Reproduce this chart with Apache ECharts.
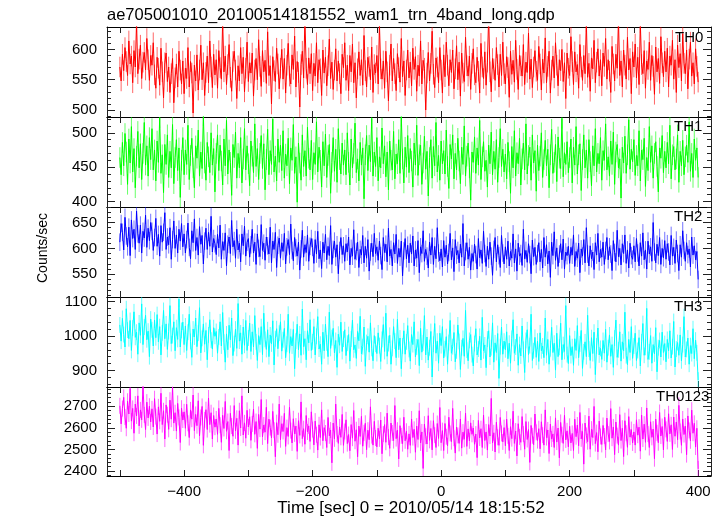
<!DOCTYPE html>
<html><head><meta charset="utf-8">
<script src="https://cdn.jsdelivr.net/npm/echarts@6/dist/echarts.min.js"></script>
<style>html,body{margin:0;padding:0;background:#fff}#c{width:723px;height:516px}</style>
</head><body><div id="c"></div>
<script>
const TITLE = 'ae705001010_20100514181552_wam1_trn_4band_long.qdp';
const X_TITLE = 'Time [sec] 0 = 2010/05/14 18:15:52';
const Y_TITLE = 'Counts/sec';
const bandNames = ['TH0', 'TH1', 'TH2', 'TH3', 'TH0123'];
const bandColors = ['#ff0000', '#00ff00', '#0000ff', '#00ffff', '#ff00ff'];
const errColors = ['rgba(255,0,0,0.6)', 'rgba(0,255,0,0.6)', 'rgba(0,0,255,0.55)', 'rgba(0,255,255,0.6)', 'rgba(255,0,255,0.6)'];
const T_START = -500, T_STEP = 2;
// half-length of the error bars (counts/sec) per band
const errHalf = [17, 15, 17, 23, 37];

const th0 = [
571,548,592,565,603,580,557,614,576,589,545,598,571,645,560,584,607,552,579,595,566,618,583,549,590,
574,611,558,536,587,569,541,602,563,520,578,594,547,571,529,560,585,512,553,576,538,597,566,543,581,
527,569,552,603,538,580,561,495,574,548,591,533,566,607,550,578,524,562,589,545,614,571,537,592,558,
583,536,598,570,551,648,563,589,542,575,608,554,531,580,597,566,519,573,548,603,560,587,530,569,612,
547,578,561,594,523,566,585,550,616,572,539,598,563,582,544,629,557,573,510,588,565,547,602,576,535,
569,600,551,585,528,574,610,556,543,591,567,622,538,580,562,505,575,597,553,652,569,542,586,560,593,
532,577,556,611,545,583,568,524,599,561,587,540,573,617,552,579,534,566,601,548,581,560,527,592,570,
611,549,574,532,590,563,609,545,578,520,568,596,557,583,541,623,565,538,587,572,550,604,529,575,561,
590,543,641,568,551,581,536,597,563,515,574,609,548,585,560,532,593,570,546,618,555,581,524,566,599,
553,579,540,602,567,588,531,574,556,614,543,582,569,500,561,595,548,577,630,559,537,586,571,545,603,
566,528,591,555,612,574,540,583,562,599,535,568,606,550,579,523,594,561,547,620,573,556,589,534,577,
601,558,545,587,564,528,610,571,552,596,541,579,655,563,530,585,568,549,603,575,538,592,557,612,560,
543,588,570,521,597,559,582,546,615,567,534,590,573,556,608,542,579,562,627,551,584,537,571,598,564,
549,605,576,533,584,561,619,545,572,597,528,566,589,553,611,574,540,583,565,600,547,578,519,594,569,
557,621,580,542,596,563,575,536,608,571,549,590,560,646,554,577,531,586,568,615,545,579,601,556,583,
540,594,572,618,551,583,564,529,605,576,548,592,569,650,557,581,538,599,574,551,620,566,585,527,596,
571,609,553,587,542,644,575,560,598,536,581,567,612,549,590,572,526,604,563,585,544,621,578,555,597,
563,602,538,589,574,615,551,583,529,607,570,593,548,626,577,560,599,535,584,612,556,578,543,601,572,
546];

const th1 = [
464,439,486,452,499,472,425,491,456,509,443,477,420,466,502,449,484,432,470,515,453,481,437,493,461,
506,446,475,430,488,457,522,441,468,413,483,454,497,435,473,449,512,426,464,490,445,478,406,460,493,
439,475,454,511,432,467,492,449,420,481,463,504,437,472,448,525,456,431,486,465,442,500,453,477,414,
470,497,445,482,459,424,491,452,518,440,475,457,409,483,464,501,434,470,449,493,427,462,506,446,481,
455,423,488,466,442,513,451,477,432,470,496,448,484,417,461,505,439,474,454,520,443,466,430,491,457,
482,445,503,434,469,452,492,426,478,460,512,441,465,399,485,456,431,497,451,474,437,508,463,446,489,
432,471,454,516,443,479,460,421,487,452,498,435,467,483,412,457,493,444,476,428,506,461,440,485,453,
475,439,500,457,424,491,449,470,514,442,462,430,486,453,478,404,468,496,445,482,458,521,437,472,451,
493,430,465,449,507,455,481,436,472,417,488,460,446,502,433,469,455,490,441,524,462,427,479,450,496,
442,477,459,421,485,453,511,438,468,482,425,456,495,447,473,408,464,490,434,480,452,515,443,467,431,
488,455,474,440,504,451,419,483,462,497,433,470,446,492,459,426,479,454,510,437,466,485,449,402,472,
457,494,441,478,453,518,432,465,487,444,460,421,482,455,501,439,473,447,490,428,464,506,451,476,443,
469,433,486,458,412,480,449,503,437,471,455,492,424,462,485,446,513,440,467,479,431,497,456,474,415,
482,445,466,500,435,461,489,452,476,420,468,505,441,457,483,429,494,463,448,521,436,471,454,487,442,
464,491,427,479,453,509,440,468,484,416,461,497,449,475,434,490,458,423,481,452,506,443,470,455,493,
431,474,460,513,446,465,437,488,454,501,425,472,483,449,462,405,479,456,495,441,468,519,447,476,458,
490,438,467,452,503,430,475,461,492,422,464,445,509,457,481,434,470,487,451,414,478,463,496,442,473,
449,486,455,511,433,468,480,446,462,497,428,473,452,489,439,465,482,457,516,444,470,435,491,460,478,
435];

const th2 = [
612,648,631,597,660,624,603,641,586,655,619,637,598,672,628,610,645,591,633,620,664,602,639,615,650,
633,596,621,658,604,627,585,644,612,631,669,598,622,607,640,579,617,653,600,626,591,637,614,648,603,
628,591,617,649,602,580,634,611,657,596,621,587,642,608,625,570,614,639,598,631,604,662,593,619,609,
588,627,601,645,579,613,596,630,566,608,622,590,654,603,615,581,637,597,610,574,628,605,643,585,612,
619,583,607,637,591,612,569,628,600,584,646,596,610,577,622,605,589,641,572,614,598,631,563,606,620,
581,611,594,629,570,603,617,588,647,596,576,621,601,585,612,558,599,635,583,607,592,626,575,604,619,
602,571,617,589,633,580,597,561,612,591,627,578,604,586,644,569,598,614,583,607,551,596,621,588,605,
575,609,593,622,568,600,585,636,579,594,612,563,598,587,625,572,604,581,617,556,593,610,584,629,590,
603,577,614,586,559,621,592,608,574,639,585,598,566,611,589,627,571,600,583,614,547,595,619,580,606,
572,610,589,624,566,597,581,615,553,603,590,634,575,598,585,562,612,587,621,569,604,580,640,591,576,
599,564,615,583,606,570,592,629,578,601,555,617,587,596,572,608,583,648,566,594,611,579,602,558,590,
575,608,588,560,619,582,597,571,633,590,565,604,579,612,585,548,598,621,574,607,586,563,625,591,570,
603,579,614,566,594,581,628,572,599,556,610,585,590,567,637,580,596,573,609,588,551,616,584,602,569,
590,611,574,598,562,621,583,607,570,595,544,612,586,632,577,601,565,589,609,578,618,560,593,586,604,
571,602,587,626,565,594,581,610,553,599,585,617,572,640,589,566,605,580,593,559,611,587,629,574,598,
583,612,569,596,621,578,603,589,557,615,592,574,635,584,600,568,609,590,626,571,597,562,610,586,579,
605,574,619,591,566,611,585,630,578,597,560,614,589,603,575,650,593,572,608,586,621,569,600,582,615,
579,609,593,568,625,585,602,571,616,590,557,607,583,634,596,575,611,588,599,564,622,587,605,578,594,
540];

const th3 = [
1032,985,1051,1004,968,1079,1017,992,1045,958,1023,1070,996,1011,947,1038,1002,1093,975,1026,1060,989,1014,940,1049,
1018,971,1046,995,1062,983,1027,945,1009,1074,992,1035,961,1013,1088,978,1001,1041,957,1024,990,1107,968,1016,1040,
975,1029,958,1011,1063,984,938,1020,997,1052,969,1008,1082,951,993,1035,976,1016,931,1003,1047,988,962,1024,999,
1013,950,997,1041,971,1068,982,924,1006,960,1031,989,1052,943,978,1020,964,1094,985,1009,947,1026,973,1045,958,
994,1037,955,1012,968,1059,983,929,1001,975,1027,946,1066,990,961,1018,940,1003,977,1044,916,992,1021,963,1008,
1041,956,989,1022,937,976,1063,950,998,971,1019,905,985,1034,960,1006,944,1078,969,992,931,1015,980,1047,958,
983,1027,945,999,1056,962,976,918,1011,957,1034,980,940,1069,964,995,1022,951,987,909,1005,973,1040,955,991,
1018,943,979,1004,927,991,1046,960,974,935,1013,986,1057,948,969,1026,912,981,999,953,1038,964,928,1001,976,
949,1009,972,926,990,1033,955,1066,941,978,1002,918,964,1027,985,937,1048,960,994,905,971,1015,947,983,1030,
961,927,1004,975,1041,939,968,990,914,1022,953,980,1059,945,997,930,966,1013,881,976,1036,950,985,921,1008,
972,1027,936,963,998,918,981,1045,950,969,1010,925,957,1032,984,903,966,993,941,1074,959,928,987,1004,946,
913,978,1021,945,962,999,930,1054,957,974,908,991,1015,939,966,1038,924,980,952,1007,877,969,1026,947,985,
960,1012,934,979,921,993,1047,950,968,1006,915,975,942,1029,961,894,987,1018,946,972,1063,929,957,996,938,
985,926,1009,957,971,937,1052,944,990,918,963,1025,952,979,901,1008,940,967,1037,931,975,955,1088,946,920,
1001,943,969,915,992,958,1030,937,977,1016,906,954,983,940,1060,962,929,995,949,1011,888,971,1023,945,964,
932,987,950,1019,924,966,1003,941,975,909,994,1046,938,960,1012,927,983,957,1069,943,917,990,952,1027,935,
971,1008,929,958,995,913,983,1036,944,967,1080,932,954,1001,921,975,948,1024,896,966,987,939,1011,952,978,
925,990,957,1015,936,969,1042,910,962,981,944,1003,928,975,1056,939,961,994,918,972,949,1021,934,988,951,
872];

const th0123 = [
2702,2618,2689,2741,2650,2598,2723,2664,2782,2631,2690,2575,2710,2655,2748,2609,2683,2637,2795,2660,2592,2719,2646,2700,2627,
2688,2604,2735,2652,2571,2697,2630,2760,2615,2679,2548,2706,2661,2593,2728,2640,2790,2622,2670,2585,2713,2648,2532,2691,2636,
2674,2598,2709,2621,2555,2683,2640,2752,2587,2662,2610,2725,2563,2648,2699,2519,2637,2684,2592,2738,2615,2670,2548,2657,2603,
2641,2570,2690,2612,2533,2658,2597,2722,2584,2629,2495,2667,2608,2561,2703,2586,2644,2520,2679,2599,2748,2567,2623,2552,2681,
2604,2651,2542,2618,2687,2570,2629,2505,2662,2594,2731,2558,2613,2580,2695,2527,2640,2601,2553,2676,2589,2466,2624,2568,2710,
2545,2619,2583,2667,2514,2601,2560,2695,2587,2530,2642,2572,2608,2491,2633,2565,2720,2550,2596,2524,2657,2581,2609,2537,2674,
2592,2521,2631,2568,2497,2614,2555,2683,2540,2601,2576,2509,2648,2563,2590,2438,2622,2549,2710,2571,2528,2604,2556,2662,2519,
2583,2637,2527,2569,2494,2615,2552,2680,2538,2591,2466,2608,2560,2653,2515,2577,2621,2499,2589,2545,2697,2564,2520,2630,2553,
2512,2598,2549,2636,2480,2571,2615,2533,2668,2557,2505,2622,2576,2541,2703,2550,2589,2456,2610,2563,2527,2649,2540,2584,2501,
2572,2519,2641,2555,2593,2487,2608,2546,2679,2530,2581,2412,2617,2561,2525,2656,2542,2597,2498,2633,2566,2509,2620,2551,2694,
2531,2587,2495,2620,2559,2517,2649,2574,2536,2690,2552,2483,2603,2565,2528,2641,2506,2580,2547,2668,2514,2595,2540,2623,2570,
2599,2524,2571,2462,2634,2553,2596,2509,2659,2541,2581,2497,2615,2562,2736,2530,2577,2488,2626,2556,2519,2648,2574,2535,2601,
2517,2640,2563,2495,2605,2550,2677,2528,2585,2470,2619,2558,2533,2652,2571,2501,2629,2546,2592,2440,2611,2563,2522,2664,2579,
2541,2596,2503,2628,2566,2520,2683,2555,2590,2481,2617,2548,2572,2509,2646,2534,2599,2461,2625,2568,2528,2658,2544,2586,2512,
2607,2530,2574,2495,2640,2559,2613,2517,2671,2549,2583,2432,2622,2565,2536,2654,2501,2594,2555,2699,2527,2578,2489,2631,2560,
2523,2611,2562,2498,2645,2571,2537,2689,2552,2604,2476,2627,2564,2520,2661,2541,2598,2467,2633,2575,2510,2652,2557,2592,2530,
2581,2520,2637,2566,2603,2492,2659,2548,2617,2533,2692,2571,2509,2628,2556,2594,2457,2640,2577,2531,2671,2562,2606,2498,2649,
2593,2537,2665,2572,2614,2500,2650,2561,2627,2545,2704,2583,2519,2641,2569,2608,2476,2655,2588,2540,2682,2575,2621,2511,2598,
2410];

const xTickValues = [-500, -400, -300, -200, -100, 0, 100, 200, 300, 400];
const xLabelValues = [-400, -200, 0, 200, 400];
const X_MIN = -520, X_MAX = 420;
const yMin = [488.5, 392, 506, 852, 2377];
const yMax = [637, 523, 680, 1113, 2789];
const yMajorTicks = [
  [500, 550, 600],
  [400, 450, 500],
  [550, 600, 650],
  [900, 1000, 1100],
  [2400, 2500, 2600, 2700]
];
const yMinorStep = [10, 10, 10, 20, 20];

const series = [th0, th1, th2, th3, th0123];
const FONT = '"Liberation Sans", Arial, Helvetica, sans-serif';
const gridTops = [27, 117, 207, 297, 387];
const gridHeights = [90, 90, 90, 90, 89];
const labelPos = [[675, 38], [674, 127], [674, 217], [674, 307], [656, 397]];

function minorTicks(i) {
  const out = [];
  const s = yMinorStep[i];
  for (let v = Math.ceil(yMin[i] / s) * s; v <= yMax[i]; v += s) out.push(v);
  return out;
}
const fmtX = v => (v < 0 ? '\u2212' + (-v) : String(v));
const fmtY = v => String(v);

const grids = [], xAxes = [], yAxes = [], ser = [], graphics = [];
for (let i = 0; i < 5; i++) {
  grids.push({ left: 107, right: 12, top: gridTops[i], height: gridHeights[i], outerBoundsMode: 'none' });
  const xBase = {
    gridIndex: i, type: 'value', min: X_MIN, max: X_MAX,
    axisLine: { show: true, onZero: false, lineStyle: { color: '#000', width: 1 } },
    axisTick: { show: true, inside: true, length: 6, customValues: xTickValues, lineStyle: { color: '#222', width: 1 } },
    splitLine: { show: false }
  };
  xAxes.push(Object.assign({}, xBase, {
    position: 'bottom',
    axisLabel: { show: i === 4, customValues: xLabelValues, formatter: fmtX, fontSize: 15, color: '#000', margin: 8, fontFamily: FONT }
  }));
  xAxes.push(Object.assign({}, xBase, { position: 'top', axisLabel: { show: false } }));

  const yBase = { gridIndex: i, type: 'value', min: yMin[i], max: yMax[i], splitLine: { show: false } };
  yAxes.push(Object.assign({}, yBase, {
    position: 'left',
    axisLine: { show: true, onZero: false, lineStyle: { color: '#222', width: 1 } },
    axisTick: { show: true, inside: true, length: 8, customValues: yMajorTicks[i], lineStyle: { color: '#222' } },
    axisLabel: { show: true, customValues: yMajorTicks[i], formatter: fmtY, fontSize: 15, color: '#000', margin: 10, fontFamily: FONT }
  }));
  yAxes.push(Object.assign({}, yBase, {
    position: 'left',
    axisLine: { show: false, onZero: false },
    axisTick: { show: true, inside: true, length: 4, customValues: minorTicks(i), lineStyle: { color: '#222' } },
    axisLabel: { show: false }
  }));
  yAxes.push(Object.assign({}, yBase, {
    position: 'right',
    axisLine: { show: true, onZero: false, lineStyle: { color: '#222', width: 1 } },
    axisTick: { show: true, inside: true, length: 8, customValues: yMajorTicks[i], lineStyle: { color: '#222' } },
    axisLabel: { show: false }
  }));
  yAxes.push(Object.assign({}, yBase, {
    position: 'right',
    axisLine: { show: false, onZero: false },
    axisTick: { show: true, inside: true, length: 4, customValues: minorTicks(i), lineStyle: { color: '#222' } },
    axisLabel: { show: false }
  }));

  const pts = series[i].map((v, k) => [T_START + k * T_STEP, v]);
  const e = errHalf[i];
  const ec = errColors[i];
  ser.push({
    type: 'custom', name: bandNames[i] + ' err', xAxisIndex: 2 * i, yAxisIndex: 4 * i,
    data: pts, z: 1, silent: true, animation: false,
    renderItem: function (params, api) {
      const x = api.value(0), y = api.value(1);
      const p1 = api.coord([x, y + e]);
      const p2 = api.coord([x, y - e]);
      const cs = params.coordSys;
      const top = Math.max(cs.y, Math.min(p1[1], p2[1]));
      const bot = Math.min(cs.y + cs.height, Math.max(p1[1], p2[1]));
      if (bot <= top) return null;
      return {
        type: 'line',
        shape: { x1: p1[0], y1: top, x2: p1[0], y2: bot },
        style: { stroke: ec, lineWidth: 1 }
      };
    }
  });
  ser.push({
    type: 'line', name: bandNames[i], xAxisIndex: 2 * i, yAxisIndex: 4 * i,
    data: pts, z: 2,
    showSymbol: false, symbol: 'none', clip: true, animation: false,
    lineStyle: { color: bandColors[i], width: 1 }, itemStyle: { color: bandColors[i] }
  });
  graphics.push({
    type: 'text', x: labelPos[i][0], y: labelPos[i][1], z: 100,
    style: { text: bandNames[i], fill: '#000', fontSize: 15, fontFamily: FONT, align: 'left', verticalAlign: 'middle' }
  });
}
graphics.push({ type: 'text', x: 107, y: 15, style: { text: TITLE, fill: '#000', fontSize: 16.5, fontFamily: FONT, align: 'left', verticalAlign: 'middle' } });
graphics.push({ type: 'text', x: 411, y: 508, style: { text: X_TITLE, fill: '#000', fontSize: 17, fontFamily: FONT, align: 'center', verticalAlign: 'middle' } });
graphics.push({ type: 'text', x: 43, y: 248, rotation: Math.PI / 2, style: { text: Y_TITLE, fill: '#000', fontSize: 14, fontFamily: FONT, align: 'center', verticalAlign: 'middle' } });

const chart = echarts.init(document.getElementById('c'), null, { renderer: 'canvas' });
chart.setOption({
  backgroundColor: '#fff',
  animation: false,
  grid: grids, xAxis: xAxes, yAxis: yAxes, series: ser, graphic: graphics
});
</script></body></html>
